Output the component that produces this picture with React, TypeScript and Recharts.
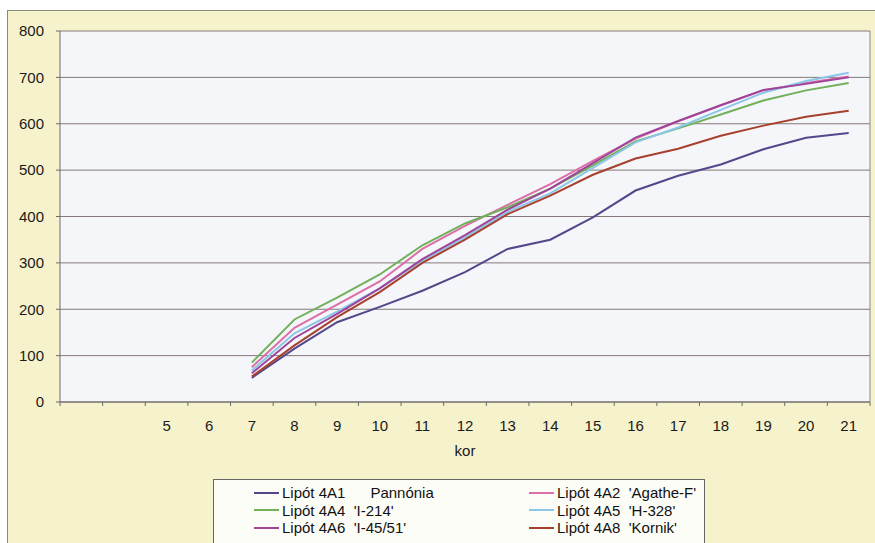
import React from 'react';
import { LineChart, Line, XAxis, YAxis, CartesianGrid, Legend, ReferenceLine } from 'recharts';

// age (kor) of the measurements
const ages = [7, 8, 9, 10, 11, 12, 13, 14, 15, 16, 17, 18, 19, 20, 21];

const pannonia = [52, 115, 172, 205, 240, 280, 330, 350, 398, 456, 488, 512, 545, 570, 580];
const agathe = [75, 160, 210, 260, 330, 380, 425, 470, 520, 568, 605, 640, 672, 688, 702];
const i214 = [85, 178, 225, 275, 338, 385, 420, 460, 510, 562, 590, 620, 650, 672, 688];
const h328 = [68, 148, 195, 245, 305, 355, 410, 450, 505, 560, 592, 630, 667, 692, 710];
const i4551 = [62, 138, 190, 245, 308, 360, 415, 460, 515, 570, 606, 640, 673, 686, 700];
const kornik = [55, 122, 183, 237, 300, 350, 405, 445, 490, 525, 546, 574, 596, 615, 628];

const xTickLabels = [5, 6, 7, 8, 9, 10, 11, 12, 13, 14, 15, 16, 17, 18, 19, 20, 21];
const yTicks = [0, 100, 200, 300, 400, 500, 600, 700, 800];
const firstAge = 3;
const lastAge = 21;

const series = [
  { key: 'a1', name: 'Lipót 4A1      Pannónia', color: '#54488a', values: pannonia },
  { key: 'a2', name: "Lipót 4A2  'Agathe-F'", color: '#dc6fa6', values: agathe },
  { key: 'a4', name: "Lipót 4A4  'I-214'", color: '#72b05a', values: i214 },
  { key: 'a5', name: "Lipót 4A5  'H-328'", color: '#8cc6e8', values: h328 },
  { key: 'a6', name: "Lipót 4A6  'I-45/51'", color: '#a0449a', values: i4551 },
  { key: 'a8', name: "Lipót 4A8  'Kornik'", color: '#a8402e', values: kornik },
];

const data = ages.map((age, i) => {
  const row: any = { age };
  series.forEach((s) => (row[s.key] = s.values[i]));
  return row;
});

// tick marks sit between categories, labels in the middle
const edgeTicks: number[] = [];
for (let a = firstAge; a <= lastAge + 1; a++) edgeTicks.push(a - 0.5);

const XTick = (props: any) => {
  const { x, y, payload } = props;
  const v = payload.value;
  if (!Number.isInteger(v)) {
    return <line x1={x} x2={x} y1={y - 18} y2={y - 14} stroke="#6a6a6a" />;
  }
  return (
    <text x={x} y={y} dy="0.71em" textAnchor="middle" fontSize={15} fill="#1a1a1a">
      {v}
    </text>
  );
};

const LegendBox = () => (
  <div
    style={{
      border: '1px solid #666',
      background: '#fdfdf8',
      height: 70,
      boxSizing: 'border-box',
      padding: '4px 0 0 40px',
      display: 'grid',
      gridTemplateColumns: '275px 175px',
      gridAutoRows: '17.5px',
      alignContent: 'start',
    }}
  >
    {series.map((s) => (
      <div
        key={s.key}
        style={{ display: 'flex', alignItems: 'center', height: 17.5, fontSize: 15, color: '#111', whiteSpace: 'pre' }}
      >
        <span style={{ display: 'inline-block', width: 25, height: 2, background: s.color, marginRight: 3 }} />
        {s.name}
      </div>
    ))}
  </div>
);

export default function App() {
  return (
    <div
      style={{
        position: 'absolute',
        left: 0,
        top: 0,
        width: 875,
        height: 543,
        overflow: 'hidden',
        background: '#ffffff',
        fontFamily: '"Liberation Sans", Arial, sans-serif',
      }}
    >
      <div
        style={{
          position: 'absolute',
          left: 7,
          top: 10,
          width: 880,
          height: 545,
          background: '#f6f3cc',
          border: '1px solid #8a8a80',
        }}
      />
      <div style={{ position: 'absolute', left: 0, top: 0 }}>
        <LineChart width={875} height={543} data={data} margin={{ top: 31, right: 5, left: 8, bottom: 81 }}>
          <CartesianGrid vertical={false} stroke="#857878" fill="#f4f6fa" fillOpacity={1} />
          <XAxis
            dataKey="age"
            type="number"
            domain={[firstAge - 0.5, lastAge + 0.5]}
            ticks={[...edgeTicks, ...xTickLabels]}
            interval={0}
            tickLine={false}
            tickSize={4}
            tickMargin={14}
            tick={<XTick />}
            axisLine={{ stroke: '#6a6a6a' }}
            height={60}
            label={{ value: 'kor', position: 'insideBottom', offset: 6, fontSize: 15, fill: '#1a1a1a' }}
          />
          <YAxis
            domain={[0, 800]}
            ticks={yTicks}
            interval={0}
            width={52}
            tickSize={4}
            tickMargin={12}
            tick={{ fontSize: 15, fill: '#1a1a1a' }}
            tickLine={{ stroke: '#6a6a6a' }}
            axisLine={{ stroke: '#6a6a6a' }}
          />
          <ReferenceLine x={lastAge + 0.5} stroke="#8a8a8a" />
          <Legend
            layout="horizontal"
            verticalAlign="middle"
            align="center"
            wrapperStyle={{ left: 213, top: 479, width: 492 }}
            content={<LegendBox />}
          />
          {series.map((s) => (
            <Line
              key={s.key}
              dataKey={s.key}
              name={s.name}
              stroke={s.color}
              strokeWidth={2}
              dot={false}
              type="linear"
              isAnimationActive={false}
            />
          ))}
        </LineChart>
      </div>
    </div>
  );
}
